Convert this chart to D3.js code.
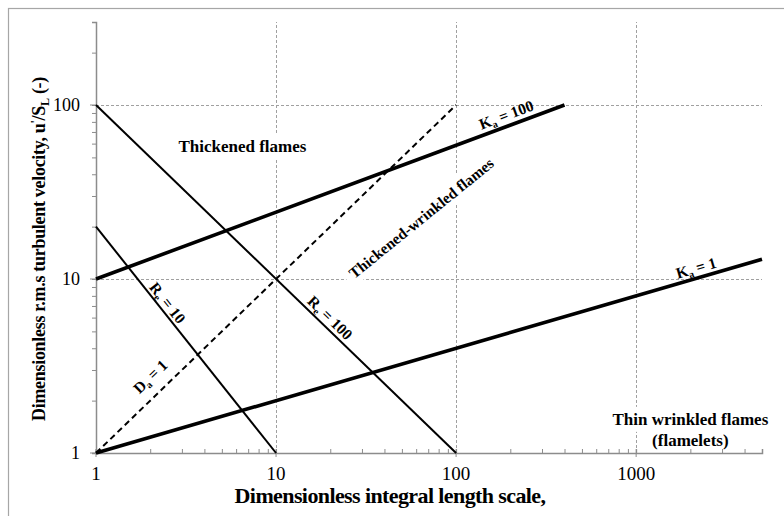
<!DOCTYPE html>
<html>
<head>
<meta charset="utf-8">
<script src="https://cdn.jsdelivr.net/npm/d3@7"></script>
<style>
  html, body { margin: 0; padding: 0; background: #fff; }
  svg { display: block; }
  text { font-family: "Liberation Serif", "Times New Roman", serif; }
</style>
</head>
<body>
<script>
// Regime diagram for premixed turbulent combustion (log-log)
const xTicks = [1, 10, 100, 1000];
const yTicks = [1, 10, 100];
const xDomain = [1, 5000];
const yDomain = [1, 300];

// Boundary lines: [l/δ, u'/S_L] end points
const kaOne = [[1, 1], [5000, 13]];
const kaHundred = [[1, 10], [400, 100]];
const reTen = [[1, 20], [10, 1]];
const reHundred = [[1, 100], [100, 1]];
const daOne = [[1, 1], [100, 100]];

const W = 784, H = 516;
const margin = { left: 96, right: 22, top: 22, bottom: 63 };

const svg = d3.select("body").append("svg").attr("width", W).attr("height", H);

// outer chart border
svg.append("rect").attr("x", 8.5).attr("y", 8.5).attr("width", 900).attr("height", 700)
  .attr("fill", "none").attr("stroke", "#a6a6a6").attr("stroke-width", 1.2);

const x = d3.scaleLog().domain(xDomain).range([margin.left, W - margin.right]);
const y = d3.scaleLog().domain(yDomain).range([H - margin.bottom, margin.top]);

// minor tick values 1..9 per decade
function minorTicks(dom) {
  const out = [];
  for (let d = 1; d <= dom[1]; d *= 10)
    for (let k = 1; k <= 9; k++) { const v = k * d; if (v >= dom[0] && v <= dom[1]) out.push(v); }
  return out;
}

// gridlines
const grid = svg.append("g").attr("stroke", "#a0a0a0").attr("stroke-width", 1).attr("stroke-dasharray", "3,2");
xTicks.filter(v => v > 1).forEach(v => grid.append("line")
  .attr("x1", Math.round(x(v)) + 0.5).attr("x2", Math.round(x(v)) + 0.5)
  .attr("y1", y(yDomain[0])).attr("y2", y(yDomain[1])));
yTicks.filter(v => v > 1).forEach(v => grid.append("line")
  .attr("x1", x(xDomain[0])).attr("x2", x(xDomain[1]))
  .attr("y1", Math.round(y(v)) + 0.5).attr("y2", Math.round(y(v)) + 0.5));

// axes
const xAxisG = svg.append("g").attr("transform", `translate(0,${y(1)})`);
xAxisG.call(d3.axisTop(x).tickValues(minorTicks(xDomain)).tickSize(4).tickFormat(""));
xAxisG.call(g => g.selectAll(".tick line").attr("stroke", "#8c8c8c"));
xAxisG.select(".domain").attr("stroke", "#8c8c8c").attr("stroke-width", 1.5);
xTicks.forEach(v => xAxisG.append("line").attr("x1", x(v)).attr("x2", x(v)).attr("y1", -4).attr("y2", 4).attr("stroke", "#8c8c8c"));
xAxisG.selectAll(".lbl").data(xTicks).join("text")
  .attr("x", d => x(d)).attr("y", 27).attr("text-anchor", "middle")
  .attr("font-size", 19).attr("fill", "#000").text(d => d);

const yAxisG = svg.append("g").attr("transform", `translate(${x(1)},0)`);
yAxisG.call(d3.axisLeft(y).tickValues(minorTicks(yDomain)).tickSize(4).tickFormat(""));
yAxisG.call(g => g.selectAll(".tick line").attr("stroke", "#8c8c8c"));
yAxisG.select(".domain").attr("stroke", "#8c8c8c").attr("stroke-width", 1.5);
yTicks.forEach(v => yAxisG.append("line").attr("x1", -6).attr("x2", 0).attr("y1", y(v)).attr("y2", y(v)).attr("stroke", "#8c8c8c"));
yAxisG.selectAll(".lbl").data(yTicks).join("text")
  .attr("x", -16).attr("y", d => y(d)).attr("dy", "0.35em").attr("text-anchor", "end")
  .attr("font-size", 18).attr("fill", "#000").text(d => d);

// boundary lines
const line = d3.line().x(d => x(d[0])).y(d => y(d[1]));
const lines = [
  { data: kaOne, w: 3.6, dash: null },
  { data: kaHundred, w: 3.6, dash: null },
  { data: reTen, w: 2, dash: null },
  { data: reHundred, w: 2, dash: null },
  { data: daOne, w: 2, dash: "6,4" }
];

// angle (degrees) of a boundary line on screen
function angleOf(seg) {
  const dx = x(seg[1][0]) - x(seg[0][0]), dy = y(seg[1][1]) - y(seg[0][1]);
  return Math.atan2(dy, dx) * 180 / Math.PI;
}

// regime labels (with white text-box backgrounds)
function boxLabel(at, angle, str, size) {
  const g = svg.append("g").attr("transform", `translate(${x(at[0])},${y(at[1])}) rotate(${angle})`);
  const rect = g.append("rect").attr("fill", "#fff");
  const t = g.append("text").attr("text-anchor", "middle").attr("dy", "0.35em")
    .attr("font-size", size).attr("font-weight", "bold").attr("fill", "#000").text(str);
  const b = t.node().getBBox();
  rect.attr("x", b.x - 6).attr("y", b.y - 3).attr("width", b.width + 12).attr("height", b.height + 6);
}
boxLabel([6.5, 58], 0, "Thickened  flames", 17);
boxLabel([64, 22.4], -39, "Thickened-wrinkled flames", 15.5);
boxLabel([2000, 1.57], 0, "Thin wrinkled flames", 17);
svg.append("text").attr("x", x(2000)).attr("y", y(1.19)).attr("dy", "0.35em")
  .attr("text-anchor", "middle").attr("font-size", 17).attr("font-weight", "bold").text("(flamelets)");

svg.append("g").selectAll("path").data(lines).join("path")
  .attr("d", d => line(d.data)).attr("fill", "none").attr("stroke", "#000")
  .attr("stroke-width", d => d.w).attr("stroke-dasharray", d => d.dash);

// line labels with subscripts: [main, sub, rest]
const lineLabels = [
  { at: [190, 88], angle: angleOf(kaHundred), parts: ["K", "a", " = 100"] },
  { at: [2150, 11.6], angle: angleOf(kaOne), parts: ["K", "a", " = 1"] },
  { at: [2.5, 7.3], angle: angleOf(reTen), parts: ["R", "e", " = 10"] },
  { at: [20, 6.0], angle: angleOf(reHundred), parts: ["R", "e", " = 100"] },
  { at: [2.0, 2.75], angle: angleOf(daOne), parts: ["D", "a", " = 1"] }
];
lineLabels.forEach(l => {
  const t = svg.append("text")
    .attr("transform", `translate(${x(l.at[0])},${y(l.at[1])}) rotate(${l.angle})`)
    .attr("text-anchor", "middle").attr("dy", "0.35em")
    .attr("font-size", 15.5).attr("font-weight", "bold").attr("fill", "#000");
  t.append("tspan").text(l.parts[0]);
  t.append("tspan").attr("font-size", 10).attr("dy", 3).text(l.parts[1]);
  t.append("tspan").attr("dy", -3).text(l.parts[2]);
});

// axis titles
svg.append("text").attr("x", 390).attr("y", 503).attr("text-anchor", "middle")
  .attr("font-size", 22).attr("font-weight", "bold").attr("letter-spacing", -0.6)
  .text("Dimensionless integral length scale,");

const yt = svg.append("text").attr("transform", "translate(45,249) rotate(-90)")
  .attr("text-anchor", "middle").attr("font-size", 18).attr("font-weight", "bold").attr("letter-spacing", -0.3);
yt.append("tspan").text("Dimensionless r.m.s turbulent velocity, u");
yt.append("tspan").attr("font-size", 12).attr("dy", -6).text("'");
yt.append("tspan").attr("dy", 6).text("/S");
yt.append("tspan").attr("font-size", 12).attr("dy", 4).text("L");
yt.append("tspan").attr("dy", -4).text(" (-)");
</script>
</body>
</html>
